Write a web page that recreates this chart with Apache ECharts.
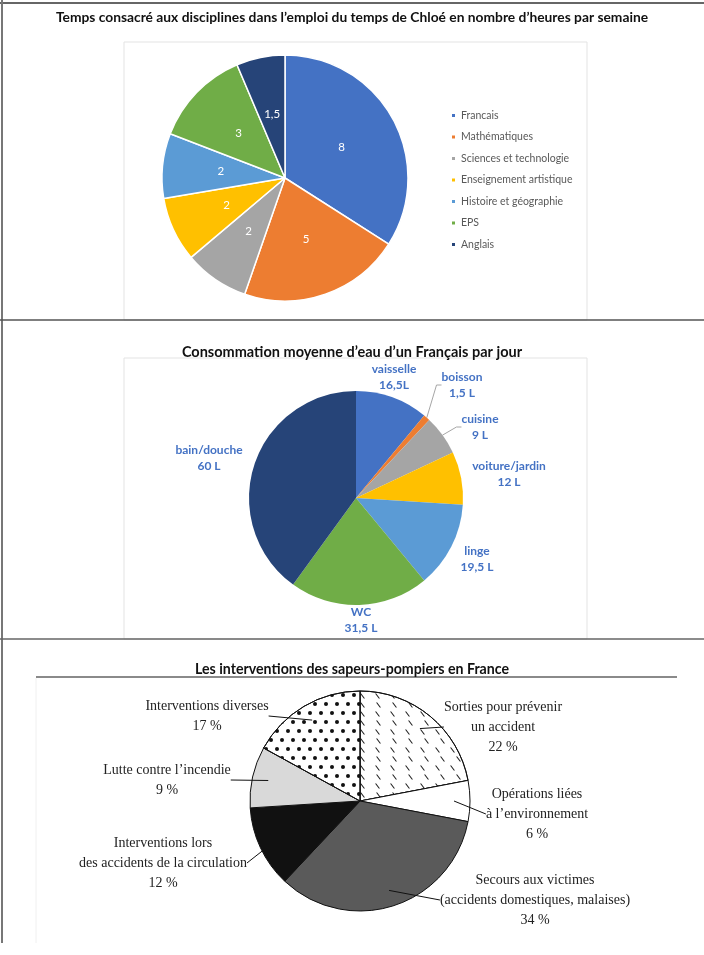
<!DOCTYPE html>
<html>
<head>
<meta charset="utf-8">
<script src="https://cdn.jsdelivr.net/npm/echarts@6/dist/echarts.min.js"></script>
<style>
  html, body { margin: 0; padding: 0; background: #fff; }
  #chart { width: 704px; height: 955px; }
</style>
</head>
<body>
<div id="chart"></div>
<script>
// Emploi du temps de Chloé (heures par semaine)
const matieres = ['Francais', 'Mathématiques', 'Sciences et technologie', 'Enseignement artistique',
  'Histoire et géographie', 'EPS', 'Anglais'];
const heures = [8, 5, 2, 2, 2, 3, 1.5];

// Consommation moyenne d'eau (litres par jour)
const usagesEau = ['vaisselle', 'boisson', 'cuisine', 'voiture/jardin', 'linge', 'WC', 'bain/douche'];
const litres = [16.5, 1.5, 9, 12, 19.5, 31.5, 60];
const unitesEau = ['L', ' L', ' L', ' L', ' L', ' L', ' L'];

// Interventions des sapeurs-pompiers (%)
const interventions = ['Sorties pour prévenir\nun accident', 'Opérations liées\nà l’environnement',
  'Secours aux victimes\n(accidents domestiques, malaises)', 'Interventions lors\ndes accidents de la circulation',
  'Lutte contre l’incendie', 'Interventions diverses'];
const pourcentages = [22, 6, 34, 12, 9, 17];

// ---- styles ----
const officeColors = ['#4472C4', '#ED7D31', '#A5A5A5', '#FFC000', '#5B9BD5', '#70AD47', '#264478'];
const pompiersFills = ['#ffffff', '#ffffff', '#5a5a5a', '#111111', '#d9d9d9', '#ffffff'];
const pompiersDecals = [
  { symbol: 'path://M0,0L2,0L8,8L6,8Z', symbolSize: 1, symbolKeepAspect: true, color: '#222',
    backgroundColor: 'rgba(0,0,0,0)', dashArrayX: [[5, 10], [0, 7.5, 5, 2.5]], dashArrayY: [6, 2.5] },
  null, null, null, null,
  { symbol: 'circle', symbolSize: 1, symbolKeepAspect: true, color: '#111',
    backgroundColor: 'rgba(0,0,0,0)', dashArrayX: [[3.6, 6.4], [0, 5, 3.6, 1.4]], dashArrayY: [3.6, 4.6] }
];
const eauLabelPos = [[394, 377], [462, 385], [480, 427], [509, 474], [477, 559], [361, 620], [209, 458]];
const eauLeaderLines = [false, true, true, false, false, false, false];
const pompiersLabelPos = [[503, 727], [537, 814], [535, 900], [163, 863], [167, 780], [207, 716]];

const sans = 'Lato, "Liberation Sans", sans-serif';
const serif = '"Liberation Serif", "DejaVu Serif", serif';
const virgule = v => String(v).replace('.', ',');

const chart = echarts.init(document.getElementById('chart'), null, { renderer: 'canvas' });

const option = {
  animation: false,
  backgroundColor: '#ffffff',
  title: [
    { text: 'Temps consacré aux disciplines dans l’emploi du temps de Chloé en nombre d’heures par semaine',
      left: 'center', top: 6, textStyle: { fontFamily: sans, fontWeight: 'bold', fontSize: 13.8, color: '#111' } },
    { text: 'Consommation moyenne d’eau d’un Français par jour',
      left: 'center', top: 340, textStyle: { fontFamily: sans, fontWeight: 'bold', fontSize: 14.5, color: '#111' } },
    { text: 'Les interventions des sapeurs-pompiers en France',
      left: 'center', top: 657, textStyle: { fontFamily: sans, fontWeight: 'bold', fontSize: 14.2, color: '#111' } }
  ],
  legend: {
    data: matieres,
    orient: 'vertical',
    left: 445,
    top: 104,
    itemWidth: 5,
    itemHeight: 5,
    itemGap: 8.5,
    icon: 'rect',
    selectedMode: false,
    textStyle: { fontFamily: sans, fontSize: 10.5, color: '#595959', lineHeight: 13 }
  },
  graphic: [
    // cadre de la page
    { type: 'line', shape: { x1: 0, y1: 3, x2: 704, y2: 3 }, style: { stroke: '#333', lineWidth: 1.5 } },
    { type: 'line', shape: { x1: 2, y1: 0, x2: 2, y2: 943 }, style: { stroke: '#777', lineWidth: 2 } },
    { type: 'line', shape: { x1: 0, y1: 320, x2: 704, y2: 320 }, style: { stroke: '#555', lineWidth: 1.5 } },
    { type: 'line', shape: { x1: 0, y1: 639, x2: 704, y2: 639 }, style: { stroke: '#666', lineWidth: 1.5 } },
    // zones des graphiques
    { type: 'rect', shape: { x: 124, y: 42, width: 463, height: 278 }, style: { fill: 'none', stroke: '#e3e3e3', lineWidth: 1 }, z: -1 },
    { type: 'rect', shape: { x: 124, y: 358, width: 463, height: 281 }, style: { fill: 'none', stroke: '#e3e3e3', lineWidth: 1 }, z: -1 },
    { type: 'line', shape: { x1: 36, y1: 677, x2: 677, y2: 677 }, style: { stroke: '#8a8a8a', lineWidth: 2 } },
    { type: 'line', shape: { x1: 36, y1: 678, x2: 36, y2: 943 }, style: { stroke: '#f0f0f0', lineWidth: 1 } }
  ],
  series: [
    {
      name: 'Heures',
      type: 'pie',
      center: [285, 178],
      radius: 123,
      startAngle: 90,
      clockwise: true,
      avoidLabelOverlap: false,
      silent: true,
      itemStyle: { borderColor: '#fff', borderWidth: 1.5 },
      label: {
        show: true, position: 'inside', color: '#fff', fontFamily: sans, fontSize: 11.5,
        formatter: p => virgule(p.value)
      },
      labelLine: { show: false },
      data: matieres.map((m, i) => ({ name: m, value: heures[i], itemStyle: { color: officeColors[i] } }))
    },
    {
      name: 'Eau',
      type: 'pie',
      center: [356, 498],
      radius: 107,
      startAngle: 90,
      clockwise: true,
      avoidLabelOverlap: false,
      silent: true,
      itemStyle: { borderWidth: 0 },
      label: {
        show: true, position: 'outside', color: '#4472C4', fontFamily: sans, fontWeight: 'bold',
        fontSize: 12, lineHeight: 15.5, align: 'center',
        formatter: p => p.name + '\n' + virgule(p.value) + unitesEau[p.dataIndex]
      },
      labelLine: { show: true, length: 8, length2: 5, lineStyle: { color: '#a6a6a6', width: 1 } },
      labelLayout: p => ({ x: eauLabelPos[p.dataIndex][0], y: eauLabelPos[p.dataIndex][1], align: 'center', verticalAlign: 'middle' }),
      data: usagesEau.map((u, i) => ({
        name: u, value: litres[i], itemStyle: { color: officeColors[i] },
        labelLine: { show: eauLeaderLines[i] }
      }))
    },
    {
      name: 'Pompiers',
      type: 'pie',
      center: [360, 801],
      radius: 110,
      startAngle: 90,
      clockwise: true,
      silent: true,
      itemStyle: { borderColor: '#111', borderWidth: 1 },
      label: { show: false },
      labelLine: { show: false },
      data: interventions.map((n, i) => {
        const style = { color: pompiersFills[i] };
        if (pompiersDecals[i]) style.decal = pompiersDecals[i];
        return { name: n, value: pourcentages[i], itemStyle: style };
      })
    },
    {
      // étiquettes et traits de rappel du troisième graphique
      name: 'Pompiers (étiquettes)',
      type: 'pie',
      center: [360, 801],
      radius: 94,
      startAngle: 90,
      clockwise: true,
      silent: true,
      avoidLabelOverlap: false,
      z: 3,
      itemStyle: { color: 'rgba(0,0,0,0)', borderWidth: 0 },
      label: {
        show: true, position: 'outside', color: '#222', fontFamily: serif, fontSize: 14, lineHeight: 20,
        align: 'center', formatter: p => p.name + '\n' + p.value + ' %'
      },
      labelLine: { show: true, length: 10, length2: 0, lineStyle: { color: '#111', width: 1 } },
      labelLayout: p => ({ x: pompiersLabelPos[p.dataIndex][0], y: pompiersLabelPos[p.dataIndex][1], align: 'center', verticalAlign: 'middle' }),
      data: interventions.map((n, i) => ({ name: n, value: pourcentages[i] }))
    }
  ]
};

chart.setOption(option);
</script>
</body>
</html>
